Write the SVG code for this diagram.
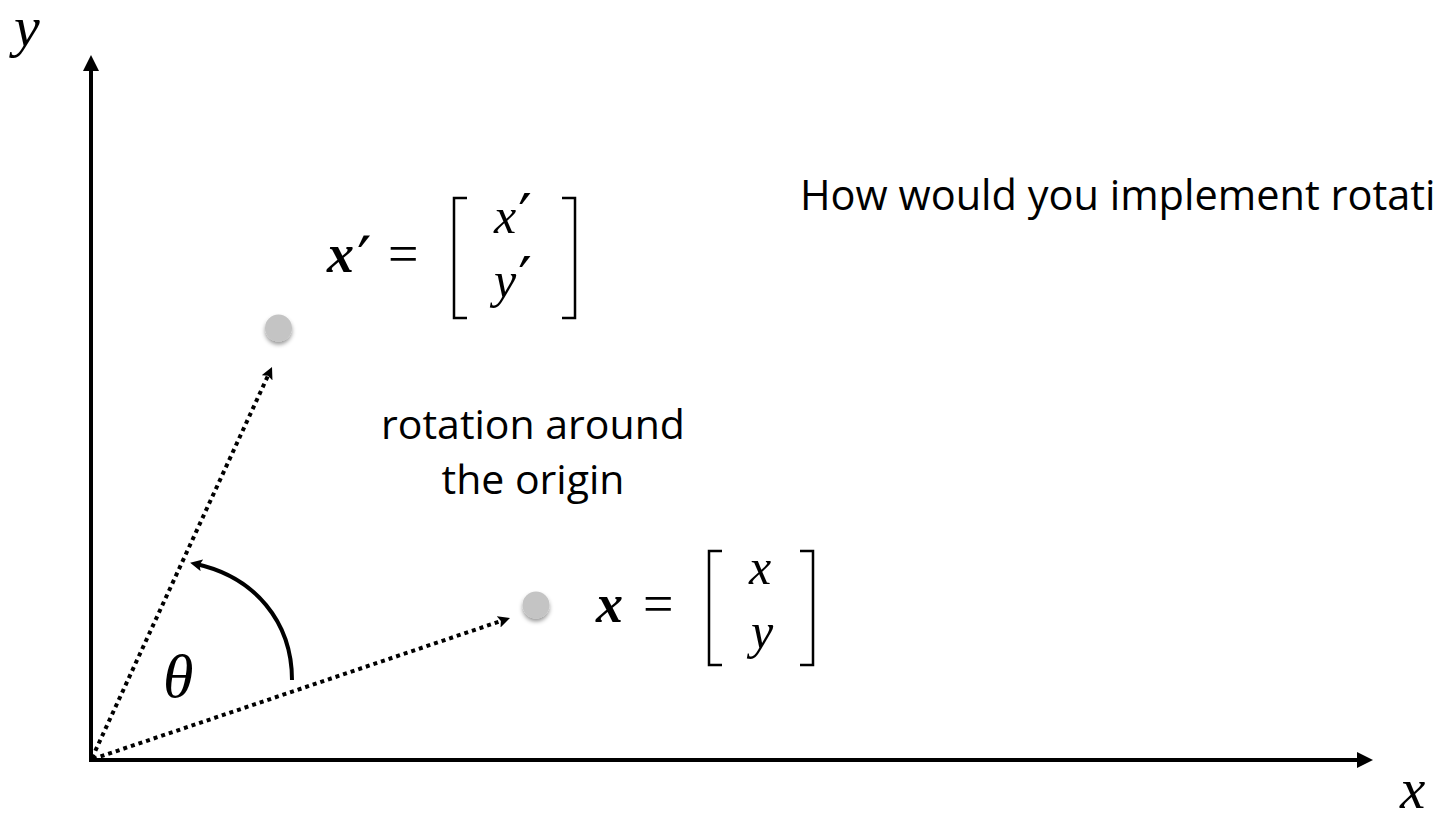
<svg xmlns="http://www.w3.org/2000/svg" width="1439" height="818" viewBox="0 0 1439 818">
<defs>
<style>
.axis{stroke:#000;stroke-width:4;fill:none}
.dot{stroke:#000;stroke-width:4;stroke-dasharray:4 4;fill:none}
.math{font-family:"Liberation Serif","DejaVu Serif",serif;font-style:italic;fill:#000}
.mb{font-family:"Liberation Serif","DejaVu Serif",serif;font-style:italic;font-weight:bold;fill:#000}
.op{font-family:"Liberation Serif","DejaVu Serif",serif;fill:#000}
.pr{font-family:"DejaVu Serif",serif;font-style:normal;font-weight:normal}
.lbl{font-family:"Open Sans","Noto Sans",sans-serif;fill:#000}
.br{stroke:#000;stroke-width:2.5;fill:none}
</style>
<marker id="ah" viewBox="0 0 10 10" refX="5" refY="5" markerWidth="4" markerHeight="4" orient="auto" markerUnits="strokeWidth">
<path d="M0,0 L10,5 L0,10 z" fill="#000"/>
</marker>
<marker id="ahs" viewBox="0 0 10 10" refX="5" refY="5" markerWidth="3" markerHeight="3" orient="auto" markerUnits="strokeWidth">
<path d="M0,0 L10,5 L0,10 L2,5 z" fill="#000"/>
</marker>
<filter id="sh" x="-50%" y="-50%" width="200%" height="200%">
<feDropShadow dx="0" dy="3" stdDeviation="2" flood-color="#000" flood-opacity="0.4"/>
</filter>
</defs>
<rect width="1439" height="818" fill="#fff"/>
<g id="connectors">
<path class="axis" d="M91,762 L91,63" marker-end="url(#ah)"/>
<path class="axis" d="M89,760 L1365,760" marker-end="url(#ah)"/>
<path class="dot" d="M92,758 L269.5,372.4" marker-end="url(#ahs)"/>
<path class="dot" d="M93,759 L504.3,619.9" marker-end="url(#ahs)"/>
<path d="M292,680 C292,622 255,577 196,564" stroke="#000" stroke-width="4" fill="none" marker-end="url(#ahs)"/>
</g>
<g id="axis-y-label"><text class="math" x="14" y="46" font-size="58">y</text></g>
<g id="axis-x-label"><text class="math" x="1400" y="808" font-size="57">x</text></g>
<g id="point-xprime">
<circle cx="278.5" cy="328" r="13.5" fill="#c4c4c4" filter="url(#sh)"/>
</g>
<g id="point-x">
<circle cx="536" cy="605" r="13.5" fill="#c4c4c4" filter="url(#sh)"/>
</g>
<g id="eq-xprime">
<text class="mb" x="327" y="272" font-size="54">x<tspan class="pr" font-size="64" dx="3" dy="10">′</tspan></text>
<text class="op" x="388" y="272" font-size="54">=</text>
<path class="br" d="M467,198 L454,198 L454,318 L467,318"/>
<text class="math" x="494" y="233" font-size="50">x<tspan class="pr" font-size="60" dx="2" dy="4">′</tspan></text>
<text class="math" x="494" y="297" font-size="50">y<tspan class="pr" font-size="60" dx="2" dy="3">′</tspan></text>
<path class="br" d="M562,198 L575,198 L575,318 L562,318"/>
</g>
<g id="eq-x">
<text class="mb" x="596" y="622" font-size="54">x</text>
<text class="op" x="643" y="622" font-size="54">=</text>
<path class="br" d="M722,551 L709,551 L709,665 L722,665"/>
<text class="math" x="749" y="584" font-size="50">x</text>
<text class="math" x="751" y="648" font-size="50">y</text>
<path class="br" d="M800,551 L813,551 L813,665 L800,665"/>
</g>
<g id="theta"><text class="math" x="163" y="697" font-size="62">θ</text></g>
<g id="label-rotation">
<text class="lbl" x="533" y="439" font-size="41" text-anchor="middle">rotation around</text>
<text class="lbl" x="533" y="494" font-size="41" text-anchor="middle">the origin</text>
</g>
<g id="question"><text class="lbl" x="800" y="210" font-size="41.5">How would you implement rotati</text></g>
</svg>
